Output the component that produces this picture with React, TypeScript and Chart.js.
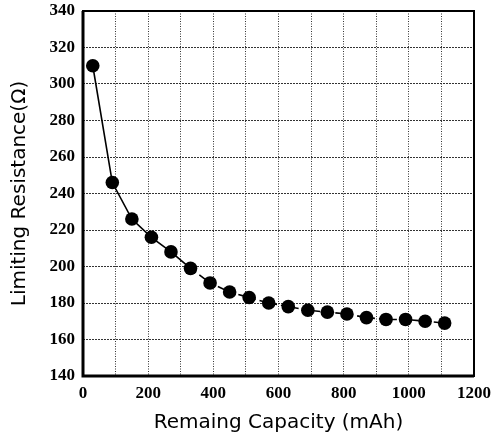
import React, { useEffect, useRef } from "react";
import { Chart, registerables } from "chart.js";

Chart.register(...registerables);

// Remaining capacity (mAh) and the matching limiting resistance (Ω)
const capacity = [30, 90, 150, 210, 270, 330, 390, 450, 510, 570, 630, 690, 750, 810, 870, 930, 990, 1050, 1110];
const resistance = [310, 246, 226, 216, 208, 199, 191, 186, 183, 180, 178, 176, 175, 174, 172, 171, 171, 170, 169];

const xTicks = [0, 200, 400, 600, 800, 1000, 1200];
const yTicks = [140, 160, 180, 200, 220, 240, 260, 280, 300, 320, 340];

const xTitle = "Remaing Capacity (mAh)";
const yTitle = "Limiting Resistance(Ω)";

// Heavy black frame round the plotting area
const framePlugin = {
  id: "frame",
  afterDraw(chart: any) {
    const { ctx, chartArea: a } = chart;
    ctx.save();
    ctx.strokeStyle = "#000";
    ctx.lineWidth = 2;
    ctx.strokeRect(a.left, a.top, a.right - a.left, a.bottom - a.top);
    ctx.lineWidth = 3;
    ctx.beginPath();
    ctx.moveTo(a.left, a.top);
    ctx.lineTo(a.left, a.bottom);
    ctx.lineTo(a.right, a.bottom);
    ctx.stroke();
    ctx.restore();
  },
};

export default function App() {
  const ref = useRef<HTMLCanvasElement>(null);

  useEffect(() => {
    if (!ref.current) return;
    const points = capacity.map((x, i) => ({ x, y: resistance[i] }));
    const tickFont = { family: "'Liberation Serif', serif", size: 17, weight: "bold" as const };
    const titleFont = { family: "'DejaVu Sans', sans-serif", size: 20 };

    const chart = new Chart(ref.current, {
      type: "scatter",
      data: {
        datasets: [
          {
            data: points,
            showLine: true,
            borderColor: "#000",
            borderWidth: 1.6,
            backgroundColor: "#000",
            pointRadius: 6.8,
            pointHoverRadius: 6.8,
            pointBorderWidth: 0,
            segment: {
              borderDash: (ctx: any) => (ctx.p0DataIndex >= 5 ? [7, 4] : undefined),
            },
          },
        ],
      },
      options: {
        animation: false,
        responsive: false,
        devicePixelRatio: 1,
        layout: { padding: { top: 11, right: 22, bottom: 0, left: 0 } },
        plugins: { legend: { display: false }, tooltip: { enabled: false } },
        scales: {
          x: {
            type: "linear",
            min: xTicks[0],
            max: xTicks[xTicks.length - 1],
            afterFit: (s: any) => {
              s.height = 59;
              s.paddingLeft = 0;
              s.paddingRight = 0;
            },
            afterBuildTicks: (s: any) => {
              const t = [];
              for (let v = xTicks[0]; v <= xTicks[xTicks.length - 1]; v += 100) t.push({ value: v });
              s.ticks = t;
            },
            ticks: {
              autoSkip: false,
              maxRotation: 0,
              padding: 7,
              color: "#000",
              font: tickFont,
              callback: (v: any) => (xTicks.includes(v) ? String(v) : ""),
            },
            grid: { color: "#333", lineWidth: 1, drawTicks: false },
            border: { display: false, dash: [1, 1.5] },
            title: { display: true, text: xTitle, color: "#000", font: titleFont, padding: { top: 2, bottom: 0 } },
          },
          y: {
            type: "linear",
            min: yTicks[0],
            max: yTicks[yTicks.length - 1],
            afterFit: (s: any) => {
              s.width = 83;
              s.paddingTop = 0;
              s.paddingBottom = 0;
            },
            afterBuildTicks: (s: any) => {
              s.ticks = yTicks.map((v) => ({ value: v }));
            },
            ticks: { padding: 8, color: "#000", font: tickFont },
            grid: { color: "#333", lineWidth: 1, drawTicks: false },
            border: { display: false, dash: [2, 1] },
            title: { display: true, text: yTitle, color: "#000", font: titleFont, padding: { top: 8, bottom: 0 } },
          },
        },
      },
      plugins: [framePlugin],
    });
    return () => chart.destroy();
  }, []);

  return (
    <div style={{ position: "fixed", left: 0, top: 0, width: 496, height: 435, background: "#fff" }}>
      <canvas ref={ref} width={496} height={435} style={{ display: "block", width: 496, height: 435 }} />
    </div>
  );
}
